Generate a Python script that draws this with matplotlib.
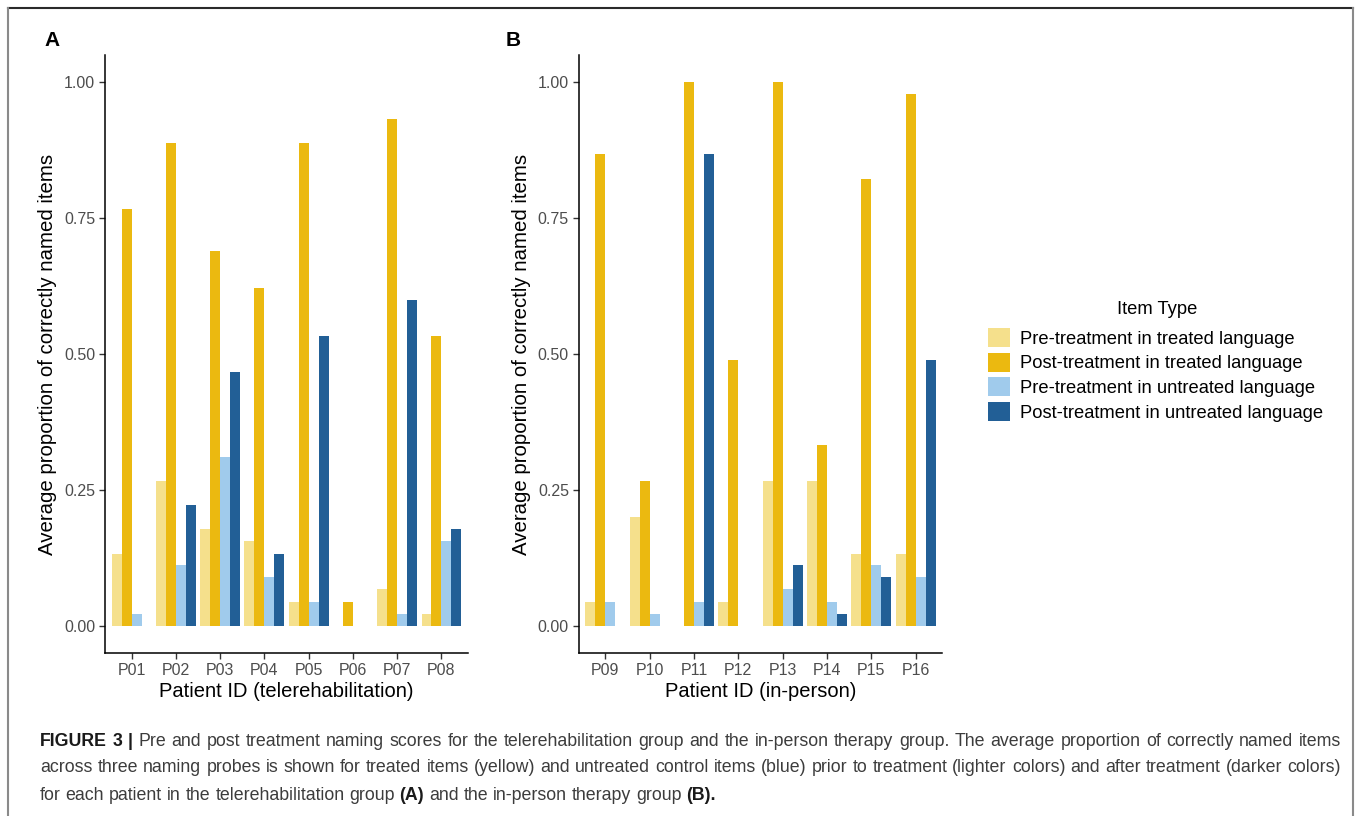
import numpy as np
import matplotlib
matplotlib.use("Agg")
import matplotlib.pyplot as plt
from matplotlib.patches import Patch
from matplotlib.lines import Line2D

plt.rcParams['font.family'] = ['Liberation Sans', 'DejaVu Sans']

# Data
series_labels = ['Pre-treatment in treated language',
                 'Post-treatment in treated language',
                 'Pre-treatment in untreated language',
                 'Post-treatment in untreated language']
series_colors = ['#F5E08C', '#EBB910', '#A0CBEC', '#225F96']

patients_a = ['P01', 'P02', 'P03', 'P04', 'P05', 'P06', 'P07', 'P08']
pre_treated_a = [0.133, 0.267, 0.178, 0.156, 0.044, 0.0, 0.067, 0.022]
post_treated_a = [0.767, 0.889, 0.689, 0.622, 0.889, 0.044, 0.933, 0.533]
pre_untreated_a = [0.022, 0.111, 0.311, 0.089, 0.044, 0.0, 0.022, 0.156]
post_untreated_a = [0.0, 0.222, 0.467, 0.133, 0.533, 0.0, 0.600, 0.178]

patients_b = ['P09', 'P10', 'P11', 'P12', 'P13', 'P14', 'P15', 'P16']
pre_treated_b = [0.044, 0.200, 0.0, 0.044, 0.267, 0.267, 0.133, 0.133]
post_treated_b = [0.867, 0.267, 1.0, 0.489, 1.0, 0.333, 0.822, 0.978]
pre_untreated_b = [0.044, 0.022, 0.044, 0.0, 0.067, 0.044, 0.111, 0.089]
post_untreated_b = [0.0, 0.0, 0.867, 0.0, 0.111, 0.022, 0.089, 0.489]

W, H = 1360, 816
fig = plt.figure(figsize=(W / 100, H / 100), dpi=100)


def px_axes(left, right, top, bottom):
    return fig.add_axes([left / W, 1 - bottom / H, (right - left) / W, (bottom - top) / H])


def draw_panel(ax, patients, series, xlabel):
    x = np.arange(1, len(patients) + 1)
    width = 0.225
    for k, (vals, col) in enumerate(zip(series, series_colors)):
        ax.bar(x + (k - 1.5) * width, vals, width=width, color=col, linewidth=0)
    ax.set_xlim(0.4, len(patients) + 0.6)
    ax.set_ylim(-0.05, 1.05)
    ax.set_yticks([0, 0.25, 0.5, 0.75, 1.0])
    ax.set_yticklabels(['0.00', '0.25', '0.50', '0.75', '1.00'])
    ax.set_xticks(x)
    ax.set_xticklabels(patients)
    for s in ['top', 'right']:
        ax.spines[s].set_visible(False)
    for s in ['left', 'bottom']:
        ax.spines[s].set_linewidth(1.1)
        ax.spines[s].set_color('black')
    ax.tick_params(axis='both', length=4, width=1.0, color='#333333',
                   labelcolor='#4D4D4D', labelsize=11.5, pad=3)
    ax.set_xlabel(xlabel, fontsize=14.5, labelpad=3)
    ax.set_ylabel('Average proportion of correctly named items', fontsize=14.7, labelpad=5)


ax_a = px_axes(105, 468, 55, 653)
draw_panel(ax_a, patients_a,
           [pre_treated_a, post_treated_a, pre_untreated_a, post_untreated_a],
           'Patient ID (telerehabilitation)')
ax_b = px_axes(578.7, 942.3, 55, 653)
draw_panel(ax_b, patients_b,
           [pre_treated_b, post_treated_b, pre_untreated_b, post_untreated_b],
           'Patient ID (in-person)')

fig.text(52 / W, 1 - 40 / H, 'A', fontsize=15, fontweight='bold', ha='center', va='center')
fig.text(513 / W, 1 - 40 / H, 'B', fontsize=15, fontweight='bold', ha='center', va='center')

# legend: title drawn separately so its gap to the keys can be set
fig.text(1157 / W, 1 - 310 / H, 'Item Type', fontsize=13.2, ha='center', va='center')
handles = [Patch(facecolor=c, edgecolor='none', label=l) for c, l in zip(series_colors, series_labels)]
leg = fig.legend(handles=handles, loc='upper left',
                 bbox_to_anchor=(988 / W, 1 - 328 / H), frameon=False,
                 fontsize=13.2, handlelength=1.2, handleheight=1.2,
                 handletextpad=0.55, labelspacing=0.28, borderpad=0, borderaxespad=0)

# outer frame
fig.add_artist(Line2D([8 / W, 1353 / W], [1 - 8 / H, 1 - 8 / H], color='#2a2a2a', lw=1.5))
fig.add_artist(Line2D([8 / W, 8 / W], [1 - 8 / H, 0], color='#8a8a8a', lw=1.5))
fig.add_artist(Line2D([1353 / W, 1353 / W], [1 - 8 / H, 0], color='#8a8a8a', lw=1.5))

# caption with bold pieces; first two lines justified
renderer = fig.canvas.get_renderer()
cap_size = 12.8
cap_left, cap_right = 40, 1341


def text_w(s, weight):
    t = fig.text(0, 0, s, fontsize=cap_size, fontweight=weight)
    w = t.get_window_extent(renderer).width
    t.remove()
    return w


space_w = text_w('x x', 'normal') - text_w('xx', 'normal')

caption_lines = [
    [('FIGURE 3 |', 'bold', False),
     ('Pre and post treatment naming scores for the telerehabilitation group and the in-person therapy group. '
      'The average proportion of correctly named items', 'normal', True)],
    [('across three naming probes is shown for treated items (yellow) and untreated control items (blue) '
      'prior to treatment (lighter colors) and after treatment (darker colors)', 'normal', False)],
    [('for each patient in the telerehabilitation group', 'normal', False),
     ('(A)', 'bold', True),
     ('and the in-person therapy group', 'normal', True),
     ('(B).', 'bold', True)],
]
caption_y = [741, 768, 795]
caption_justify = [True, True, False]

for parts, y, justify in zip(caption_lines, caption_y, caption_justify):
    tokens = []
    for s, weight, sp in parts:
        for i, word in enumerate(s.split(' ')):
            tokens.append((word, weight, sp if i == 0 else True, text_w(word, weight)))
    n_gaps = sum(1 for t in tokens[1:] if t[2])
    gap = space_w
    if justify and n_gaps:
        gap = (cap_right - cap_left - sum(t[3] for t in tokens)) / n_gaps
    x = cap_left
    for word, weight, sp, w in tokens:
        if sp and x > cap_left:
            x += gap
        col = '#1a1a1a' if weight == 'bold' else '#3c3c3c'
        fig.text(x / W, 1 - y / H, word, fontsize=cap_size, fontweight=weight,
                 color=col, ha='left', va='center')
        x += w

fig.savefig('out.png', dpi=100)
